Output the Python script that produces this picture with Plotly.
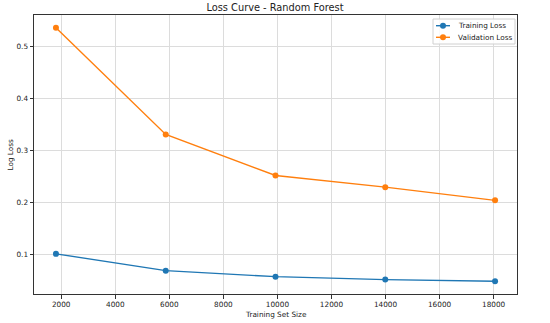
import plotly.graph_objects as go

train_sizes = [1805, 5867, 9929, 13990, 18052]
training_loss = [0.101, 0.0686, 0.0571, 0.0514, 0.0481]
validation_loss = [0.5365, 0.3308, 0.2519, 0.2294, 0.2040]
series_names = ["Training Loss", "Validation Loss"]
series_colors = ["#1f77b4", "#ff7f0e"]

x_ticks = [2000, 4000, 6000, 8000, 10000, 12000, 14000, 16000, 18000]
y_ticks = [0.1, 0.2, 0.3, 0.4, 0.5]

def padded(lo, hi, frac=0.05):
    d = hi - lo
    return [lo - frac * d, hi + frac * d]

all_y = training_loss + validation_loss
xr = padded(min(train_sizes), max(train_sizes))
yr = padded(min(all_y), max(all_y))

FONT = "DejaVu Sans"
SMALL = 7.3
W, H = 550, 323
ML, MR, MT, MB = 34, 33, 15, 29
PW, PH = W - ML - MR, H - MT - MB

def px(xp):
    return (xp - ML) / PW

def py(yp):
    return (H - MB - yp) / PH

fig = go.Figure()
for ys, name, col in zip([training_loss, validation_loss], series_names, series_colors):
    fig.add_trace(go.Scatter(
        x=train_sizes, y=ys, mode="lines+markers", name=name, showlegend=False,
        line=dict(color=col, width=1.4), marker=dict(size=6, color=col)))

axis_common = dict(
    showline=True, linecolor="#333333", linewidth=1, mirror=True,
    showgrid=True, gridcolor="#dcdcdc", gridwidth=1,
    ticks="outside", ticklen=3.5, tickcolor="#333333", tickwidth=0.8,
    tickfont=dict(family=FONT, size=SMALL, color="#222222"),
    zeroline=False, automargin=False,
)

# custom compact legend (matplotlib style)
shapes = [dict(type="rect", xref="paper", yref="paper",
               x0=px(433), x1=px(515), y0=py(44), y1=py(19),
               line=dict(color="#d0d0d0", width=1), fillcolor="rgba(255,255,255,0.85)",
               layer="above")]
annotations = []
rows_y = [25.7, 37.3]
for name, col, ry in zip(series_names, series_colors, rows_y):
    shapes.append(dict(type="line", xref="paper", yref="paper",
                       x0=px(436), x1=px(450), y0=py(ry), y1=py(ry),
                       line=dict(color=col, width=1.4), layer="above"))
    shapes.append(dict(type="circle", xref="paper", yref="paper",
                       xsizemode="pixel", ysizemode="pixel",
                       xanchor=px(443), yanchor=py(ry),
                       x0=-3, x1=3, y0=-3, y1=3,
                       line=dict(color=col, width=0), fillcolor=col, layer="above"))
    annotations.append(dict(text=name, xref="paper", yref="paper",
                            x=px(456), y=py(ry), xanchor="left", yanchor="middle",
                            showarrow=False, font=dict(family=FONT, size=SMALL, color="#222222")))

# axis titles
annotations.append(dict(text="Training Set Size", xref="paper", yref="paper",
                        x=0.5, y=py(314), xanchor="center", yanchor="middle",
                        showarrow=False, font=dict(family=FONT, size=SMALL, color="#222222")))
annotations.append(dict(text="Log Loss", xref="paper", yref="paper",
                        x=px(10), y=0.5, xanchor="center", yanchor="middle", textangle=-90,
                        showarrow=False, font=dict(family=FONT, size=SMALL, color="#222222")))

fig.update_layout(
    width=W, height=H,
    margin=dict(l=ML, r=MR, t=MT, b=MB),
    paper_bgcolor="white", plot_bgcolor="white",
    font=dict(family=FONT, color="#222222"),
    title=dict(text="Loss Curve - Random Forest", x=0.5, xanchor="center",
               y=1 - 7.5 / H, yanchor="middle", yref="container",
               font=dict(family=FONT, size=9.8, color="#222222")),
    xaxis=dict(range=xr, tickvals=x_ticks, tickformat="d", **axis_common),
    yaxis=dict(range=yr, tickvals=y_ticks, tickformat=".1f", **axis_common),
    shapes=shapes,
    annotations=annotations,
    showlegend=False,
)

fig.write_html("out.html", config={"displayModeBar": False},
               post_script="document.body.style.margin='0';document.body.style.padding='0';")
